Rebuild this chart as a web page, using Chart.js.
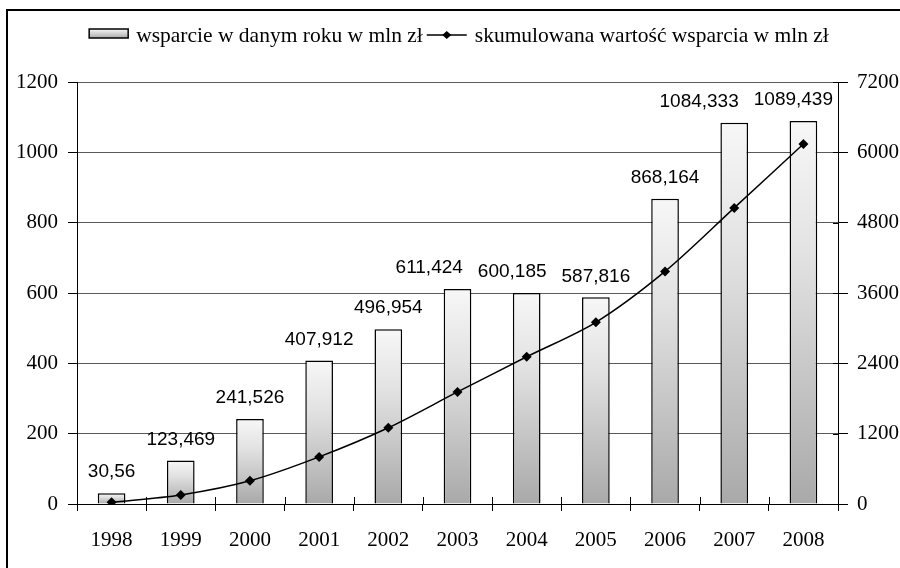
<!DOCTYPE html>
<html>
<head>
<meta charset="utf-8">
<script src="https://cdn.jsdelivr.net/npm/chart.js@4"></script>
<style>
  html, body { margin: 0; padding: 0; background: #fff; }
  #wrap { width: 900px; height: 568px; position: relative; }
</style>
</head>
<body>
<div id="wrap"><canvas id="chart"></canvas></div>
<script>
// dane z wykresu
const years = ['1998', '1999', '2000', '2001', '2002', '2003', '2004', '2005', '2006', '2007', '2008'];
const supportYear = [30.56, 123.469, 241.526, 407.912, 496.954, 611.424, 600.185, 587.816, 868.164, 1084.333, 1089.439];
const supportCumulative = [30.56, 154.03, 395.56, 803.47, 1300.42, 1911.85, 2512.03, 3099.85, 3968.01, 5052.34, 6141.78];
const leftTicks = [0, 200, 400, 600, 800, 1000, 1200];
const rightTicks = [0, 1200, 2400, 3600, 4800, 6000, 7200];

const labelBar = 'wsparcie w danym roku w mln zł';
const labelLine = 'skumulowana wartość wsparcia w mln zł';

const SERIF = "'Liberation Serif', 'Times New Roman', serif";
const SANS = "'Liberation Sans', Arial, sans-serif";

// gradient dla kazdego slupka osobno
const barGradient = (ctx) => {
    const chart = ctx.chart;
    if (!chart.chartArea || ctx.type !== 'data') return '#ddd';
    const y = chart.scales.y;
    const top = y.getPixelForValue(ctx.raw);
    const bottom = y.getPixelForValue(0);
    if (!isFinite(top) || bottom - top < 1) return '#ddd';
    const g = chart.ctx.createLinearGradient(0, top, 0, bottom);
    g.addColorStop(0, '#f7f7f7');
    g.addColorStop(0.35, '#e2e2e2');
    g.addColorStop(1, '#a9a9a9');
    return g;
};

const framePlugin = {
    id: 'frame',
    beforeDraw(chart) {
        const c = chart.ctx;
        c.save();
        c.fillStyle = '#fff';
        c.fillRect(0, 0, chart.width, chart.height);
        c.strokeStyle = '#000';
        c.lineWidth = 2;
        c.strokeRect(7, 10, chart.width + 20, chart.height + 20);
        c.restore();
    },
    afterDraw(chart) {
        const c = chart.ctx;
        const area = chart.chartArea;
        const x = chart.scales.x;
        c.save();
        c.strokeStyle = '#000';
        c.lineWidth = 1;
        // krotkie kreski nad osia X
        for (let i = 0; i <= years.length; i++) {
            const px = Math.round(x.getPixelForValue(i - 0.5)) + 0.5;
            c.beginPath();
            c.moveTo(px, area.bottom - 7);
            c.lineTo(px, area.bottom);
            c.stroke();
        }
        // krotkie kreski wewnatrz prawej osi
        const y1 = chart.scales.y1;
        rightTicks.forEach(v => {
            const py = Math.round(y1.getPixelForValue(v)) + 0.5;
            c.beginPath();
            c.moveTo(area.right - 5, py);
            c.lineTo(area.right, py);
            c.stroke();
        });

        // legenda
        c.font = '21.5px ' + SERIF;
        c.fillStyle = '#000';
        c.textBaseline = 'alphabetic';
        const boxW = 39, lineW = 40, gap = 8;
        const w1 = c.measureText(labelBar).width;
        const w2 = c.measureText(labelLine).width;
        const total = boxW + gap + w1 + 4 + lineW + gap + w2;
        let lx = 459 - total / 2;
        const g = c.createLinearGradient(0, 29, 0, 38);
        g.addColorStop(0, '#f7f7f7');
        g.addColorStop(1, '#a9a9a9');
        c.fillStyle = g;
        c.fillRect(lx, 29, boxW, 9);
        c.lineWidth = 1.5;
        c.strokeRect(lx, 29, boxW, 9);
        lx += boxW + gap;
        c.fillStyle = '#000';
        c.fillText(labelBar, lx, 42);
        lx += w1 + 4;
        c.beginPath();
        c.moveTo(lx, 35);
        c.lineTo(lx + lineW, 35);
        c.stroke();
        const cx = lx + lineW / 2;
        c.beginPath();
        c.moveTo(cx, 31);
        c.lineTo(cx + 4.5, 35);
        c.lineTo(cx, 39);
        c.lineTo(cx - 4.5, 35);
        c.closePath();
        c.fill();
        lx += lineW + gap;
        c.fillText(labelLine, lx, 42);
        c.restore();
    },
    afterDatasetsDraw(chart) {
        // etykiety wartosci nad slupkami (od prawej, z unikaniem nakladania)
        const c = chart.ctx;
        const meta = chart.getDatasetMeta(1);
        const right = chart.chartArea.right - 5;
        c.save();
        c.font = '19px ' + SANS;
        c.fillStyle = '#000';
        c.textAlign = 'center';
        c.textBaseline = 'middle';
        let prev = null;
        for (let i = meta.data.length - 1; i >= 0; i--) {
            const bar = meta.data[i];
            const txt = String(supportYear[i]).replace('.', ',');
            const w = c.measureText(txt).width;
            let x = bar.x;
            const y = bar.y - 21;
            if (x + w / 2 > right) x = right - w / 2;
            if (prev && Math.abs(prev.y - y) < 20 && x + w / 2 > prev.left - 15) {
                x = prev.left - 15 - w / 2;
            }
            c.fillText(txt, x, y);
            prev = { left: x - w / 2, y: y };
        }
        c.restore();
    }
};

const tickFont = { family: SERIF, size: 21 };

const ctx = document.getElementById('chart').getContext('2d');
new Chart(ctx, {
    type: 'bar',
    data: {
        labels: years,
        datasets: [{
            type: 'line',
            label: labelLine,
            data: supportCumulative,
            yAxisID: 'y1',
            borderColor: '#000',
            backgroundColor: '#000',
            borderWidth: 1.5,
            tension: 0.3,
            pointStyle: 'rectRot',
            pointRadius: 5,
            pointBackgroundColor: '#000',
            pointBorderWidth: 0,
            order: 0
        }, {
            type: 'bar',
            label: labelBar,
            data: supportYear,
            yAxisID: 'y',
            backgroundColor: barGradient,
            borderColor: '#000',
            borderWidth: 1.5,
            barPercentage: 0.4,
            categoryPercentage: 1,
            order: 1
        }]
    },
    options: {
        responsive: true,
        maintainAspectRatio: false,
        animation: false,
        layout: { padding: { top: 82, left: 0, right: 0, bottom: 0 } },
        plugins: {
            legend: { display: false },
            tooltip: { enabled: false }
        },
        scales: {
            x: {
                offset: true,
                grid: { offset: true, drawOnChartArea: false, tickLength: 7, color: '#000', tickColor: '#000' },
                border: { color: '#000', width: 1 },
                ticks: { font: tickFont, color: '#000', padding: 17 },
                afterFit: s => { s.height = 64; }
            },
            y: {
                position: 'left',
                min: 0,
                max: 1200,
                afterBuildTicks: s => { s.ticks = leftTicks.map(v => ({ value: v })); },
                grid: { color: '#5a5a5a', tickColor: '#000', tickLength: 9, lineWidth: 1 },
                border: { color: '#000', width: 1 },
                ticks: { font: tickFont, color: '#000', padding: 10, callback: v => String(v) },
                afterFit: s => { s.width = 77; }
            },
            y1: {
                position: 'right',
                min: 0,
                max: 7200,
                afterBuildTicks: s => { s.ticks = rightTicks.map(v => ({ value: v })); },
                grid: { drawOnChartArea: false, tickColor: '#000', tickLength: 10 },
                border: { color: '#000', width: 1 },
                ticks: { font: tickFont, color: '#000', padding: 9, callback: v => String(v) },
                afterFit: s => { s.width = 62; }
            }
        }
    },
    plugins: [framePlugin]
});
</script>
</body>
</html>
